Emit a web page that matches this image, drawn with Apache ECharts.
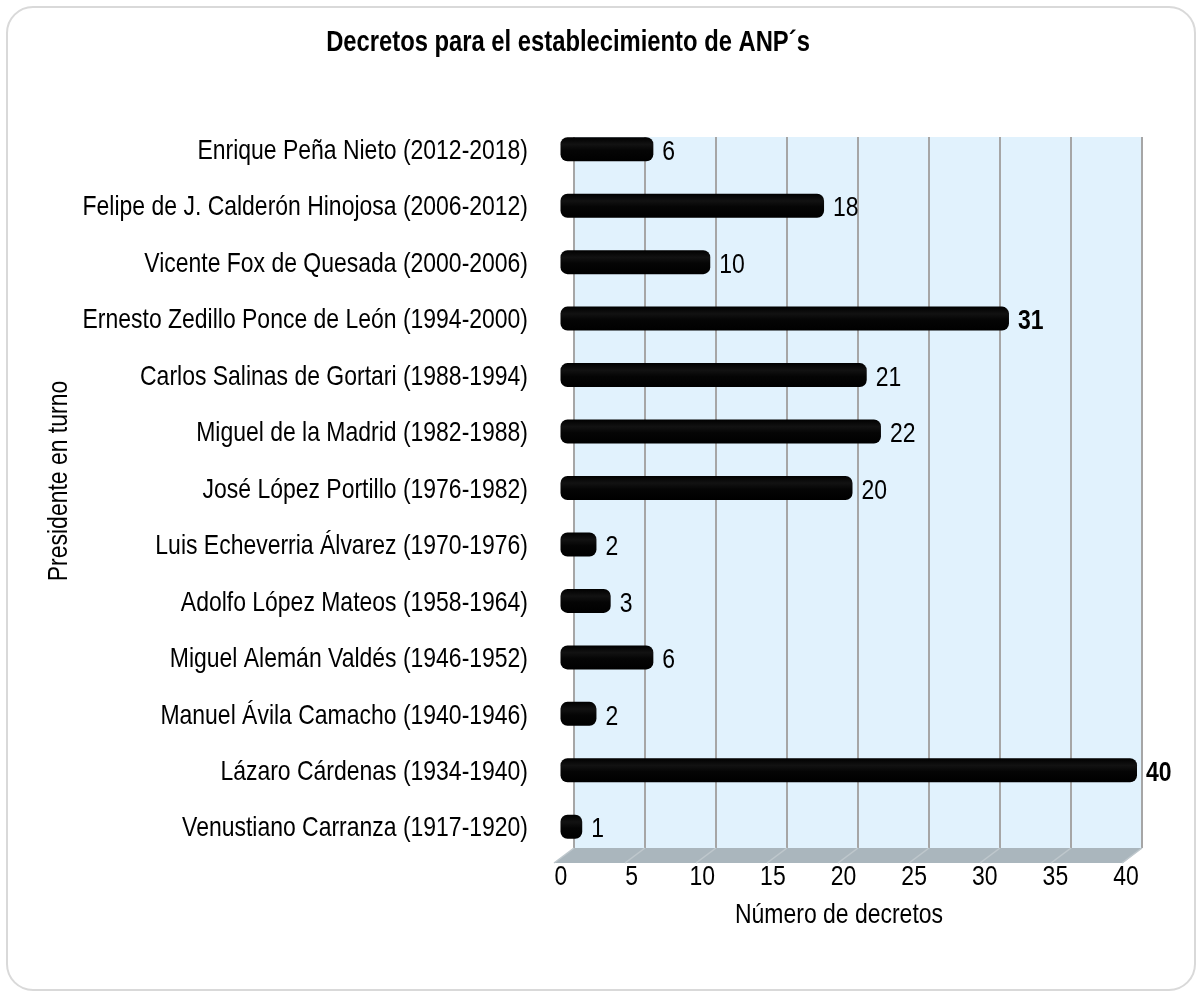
<!DOCTYPE html>
<html>
<head>
<meta charset="utf-8">
<script src="https://cdn.jsdelivr.net/npm/echarts@6/dist/echarts.min.js"></script>
<style>
html,body{margin:0;padding:0;background:#fff;}
#chart{width:1201px;height:998px;}
</style>
</head>
<body>
<div id="chart"></div>
<script>
const titleText = 'Decretos para el establecimiento de ANP´s';
const xAxisName = 'Número de decretos';
const yAxisName = 'Presidente en turno';
const categories = [
  'Enrique Peña Nieto (2012-2018)',
  'Felipe de J. Calderón Hinojosa (2006-2012)',
  'Vicente Fox de Quesada (2000-2006)',
  'Ernesto Zedillo Ponce de León (1994-2000)',
  'Carlos Salinas de Gortari (1988-1994)',
  'Miguel de la Madrid (1982-1988)',
  'José López Portillo (1976-1982)',
  'Luis Echeverria Álvarez (1970-1976)',
  'Adolfo López Mateos (1958-1964)',
  'Miguel Alemán Valdés (1946-1952)',
  'Manuel Ávila Camacho (1940-1946)',
  'Lázaro Cárdenas (1934-1940)',
  'Venustiano Carranza (1917-1920)'
];
const decretos = [6, 18, 10, 31, 21, 22, 20, 2, 3, 6, 2, 40, 1];
const xTicks = [0, 5, 10, 15, 20, 25, 30, 35, 40];

// Arial-metric font, horizontally condensed to mimic Arial Narrow
const FONT = "'Liberation Sans', Arial, sans-serif";
const FS = 28;
const NARROW = 0.82;

const chart = echarts.init(document.getElementById('chart'), null, {renderer: 'canvas'});

const barGradient = new echarts.graphic.LinearGradient(0, 0, 0, 1, [
  {offset: 0, color: '#000000'},
  {offset: 0.3, color: '#121212'},
  {offset: 0.55, color: '#050505'},
  {offset: 1, color: '#000000'}
]);

const option = {
  backgroundColor: '#ffffff',
  animation: false,
  grid: [
    // back wall
    {left: 574, right: 59, top: 137, bottom: 150, show: true, backgroundColor: '#e1f2fd', borderWidth: 0},
    // bars
    {left: 568, right: 64, top: 121, bottom: 143},
    // x tick labels (front plane)
    {left: 561, right: 75, top: 137, bottom: 121}
  ],
  xAxis: [
    {gridIndex: 0, type: 'value', min: 0, max: 40, interval: 5,
     axisLine: {show: false}, axisTick: {show: false}, axisLabel: {show: false},
     splitLine: {show: true, lineStyle: {color: '#a6a6a6', width: 2}}},
    {gridIndex: 1, type: 'value', min: 0, max: 40, show: false},
    {gridIndex: 2, type: 'value', min: 0, max: 40, interval: 5, show: false}
  ],
  yAxis: [
    {gridIndex: 0, type: 'value', min: 0, max: 1, show: false},
    {gridIndex: 1, type: 'category', data: categories, inverse: true,
     axisLine: {show: false}, axisTick: {show: false}, splitLine: {show: false},
     axisLabel: {show: false}},
    {gridIndex: 2, type: 'value', min: 0, max: 1, show: false}
  ],
  graphic: [
    {type: 'rect', shape: {x: 7, y: 7, width: 1188, height: 983, r: 26},
     style: {fill: 'none', stroke: '#d9d9d9', lineWidth: 2}, z: -10},
    {type: 'text', x: 568, y: 43, scaleX: NARROW,
     style: {text: titleText, fontFamily: FONT, fontSize: 29, fontWeight: 'bold', fill: '#000', align: 'center', verticalAlign: 'middle'}},
    {type: 'text', x: 59, y: 481, rotation: Math.PI / 2, scaleX: NARROW,
     style: {text: yAxisName, fontFamily: FONT, fontSize: FS, fill: '#000', align: 'center', verticalAlign: 'middle'}},
    {type: 'text', x: 839, y: 915, scaleX: NARROW,
     style: {text: xAxisName, fontFamily: FONT, fontSize: FS, fill: '#000', align: 'center', verticalAlign: 'middle'}}
  ],
  series: [
    {
      type: 'custom', name: 'floor', xAxisIndex: 0, yAxisIndex: 0, z: 1,
      data: [[0, 0]],
      renderItem: function (params, api) {
        const p0 = api.coord([0, 0]);
        const p1 = api.coord([40, 0]);
        const dx = -20, dy = 15;
        const children = [{
          type: 'polygon',
          shape: {points: [[p0[0], p0[1]], [p1[0], p1[1]], [p1[0] + dx + 1, p1[1] + dy], [p0[0] + dx, p0[1] + dy]]},
          style: {fill: '#aab6bd'}
        }];
        xTicks.forEach(t => {
          const p = api.coord([t, 0]);
          children.push({type: 'line', shape: {x1: p[0], y1: p[1], x2: p[0] + dx, y2: p[1] + dy},
            style: {stroke: '#bfc8cd', lineWidth: 1.5}});
        });
        return {type: 'group', children: children};
      }
    },
    {
      type: 'custom', name: 'ticks', xAxisIndex: 2, yAxisIndex: 2, z: 3,
      data: xTicks.map(t => [t, 0]),
      renderItem: function (params, api) {
        const p = api.coord([api.value(0), 0]);
        return {type: 'text', x: p[0], y: p[1], scaleX: NARROW,
          style: {text: String(api.value(0)), fill: '#000', fontFamily: FONT, fontSize: FS,
            align: 'center', verticalAlign: 'middle'}};
      }
    },
    {
      type: 'custom', name: 'Decretos', xAxisIndex: 1, yAxisIndex: 1, z: 5,
      encode: {x: 0, y: 1},
      data: decretos.map((v, i) => [v, categories[i]]),
      renderItem: function (params, api) {
        const v = api.value(0);
        const catName = categories[params.dataIndex];
        const start = api.coord([0, api.value(1)]);
        const end = api.coord([v, api.value(1)]);
        const h = api.size([0, 1])[1] * 0.425;
        const cap = 7.5;
        const bold = v >= 30;
        return {
          type: 'group',
          children: [
            {type: 'text', x: start[0] - 40, y: start[1] + 2, scaleX: NARROW,
             style: {text: catName, fill: '#000', fontFamily: FONT, fontSize: FS,
               align: 'right', verticalAlign: 'middle'}},
            {type: 'rect',
             shape: {x: start[0] - cap, y: start[1] - h / 2, width: end[0] - start[0] + cap, height: h, r: 7},
             style: {fill: barGradient}},
            {type: 'text', x: end[0] + 9, y: start[1] + 3, scaleX: NARROW,
             style: {text: String(v), fill: '#000', fontFamily: FONT, fontSize: FS,
               fontWeight: bold ? 'bold' : 'normal', align: 'left', verticalAlign: 'middle'}}
          ]
        };
      }
    }
  ]
};
chart.setOption(option);
</script>
</body>
</html>
